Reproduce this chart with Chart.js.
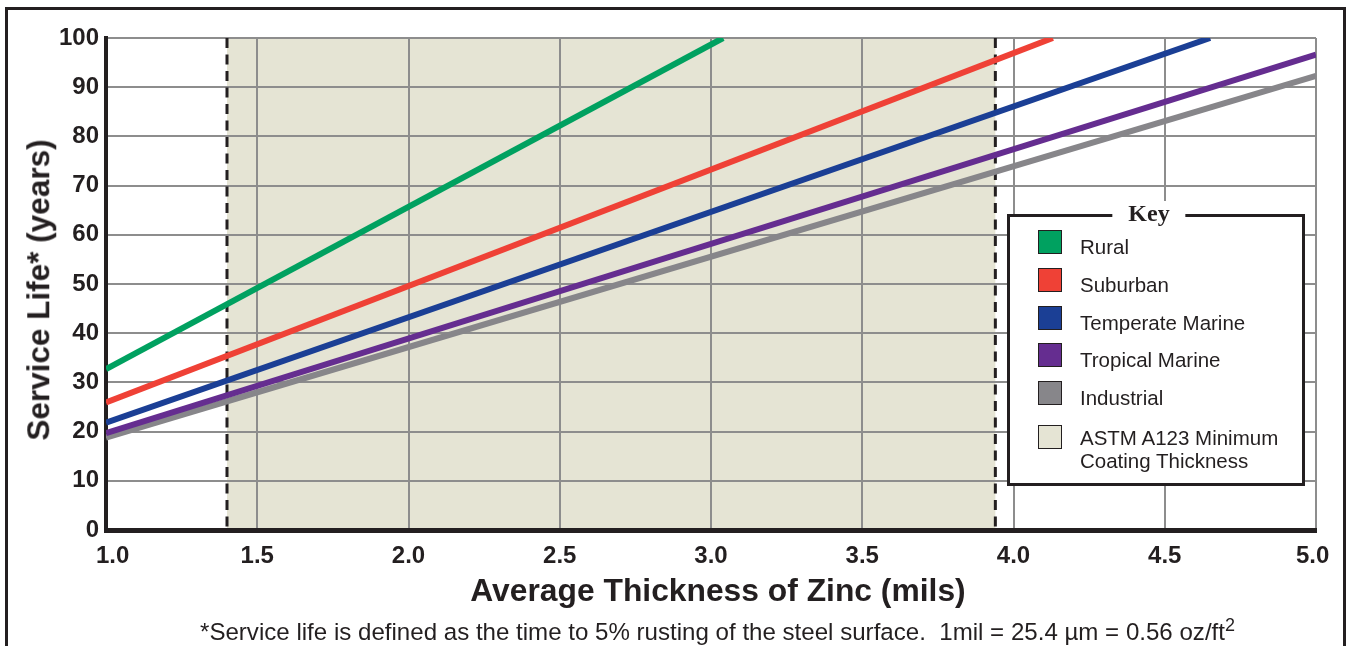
<!DOCTYPE html>
<html lang="en">
<head>
    <meta charset="UTF-8">
    <title>Service Life vs Average Thickness of Zinc</title>
    <script src="https://cdn.jsdelivr.net/npm/chart.js"></script>
    <style>
        body {
            margin: 0;
            width: 1350px;
            height: 646px;
            overflow: hidden;
            position: relative;
            background: #fff;
            color: #231f20;
            font-family: "Liberation Sans", Arial, sans-serif;
        }
        .frame {
            position: absolute;
            left: 5px; top: 7px;
            width: 1341px; height: 700px;
            box-sizing: border-box;
            border: 3px solid #231f20;
        }
        .chart-wrap { position: absolute; left: 0; top: 0; width: 1350px; height: 646px; }
        .y-title {
            position: absolute; left: 39px; top: 290px;
            transform: translate(-50%, -50%) rotate(-90deg);
            font-weight: bold; font-size: 31.5px; line-height: 1; white-space: nowrap;
        }
        .x-title {
            position: absolute; left: 718px; top: 591px;
            transform: translate(-50%, -50%);
            font-weight: bold; font-size: 31.8px; line-height: 1; white-space: nowrap;
        }
        .footnote {
            position: absolute; left: 200px; top: 632px;
            transform: translateY(-50%);
            font-size: 24.1px; line-height: 1; white-space: nowrap;
        }
        .footnote sup { font-size: 18px; vertical-align: 9px; line-height: 0; }

        /* Key box */
        .key {
            position: absolute; left: 1007px; top: 214px;
            width: 298px; height: 272px;
            box-sizing: border-box; border: 3px solid #231f20; background: #fff;
        }
        .key-title {
            position: absolute; left: 1149px; top: 213px;
            transform: translate(-50%, -50%);
            background: #fff; padding: 0 16px;
            font-family: "Liberation Serif", "DejaVu Serif", serif;
            font-weight: bold; font-size: 24px; line-height: 1;
        }
        .key-row { position: absolute; left: 1038px; display: flex; align-items: flex-start; }
        .swatch { width: 24px; height: 24px; box-sizing: border-box; border: 1.5px solid #231f20; flex: none; }
        .key-label { margin-left: 18px; margin-top: 5px; font-size: 20.5px; line-height: 23px; white-space: nowrap; }
        .key-row.wide .key-label { margin-top: 1px; }
    </style>
</head>
<body>

    <div class="frame"></div>

    <div class="chart-wrap">
        <canvas id="lifeChart" width="1350" height="646"></canvas>
    </div>

    <div class="y-title">Service Life* (years)</div>
    <div class="x-title">Average Thickness of Zinc (mils)</div>
    <div class="footnote">*Service life is defined as the time to 5% rusting of the steel surface.&nbsp; 1mil = 25.4 µm = 0.56 oz/ft<sup>2</sup></div>

    <!-- Key -->
    <div class="key"></div>
    <div class="key-title">Key</div>
    <div id="keyRows"></div>

    <script>
        // Chart data
        const seriesNames = ['Rural', 'Suburban', 'Temperate Marine', 'Tropical Marine', 'Industrial'];
        const startThickness = [1.0, 1.0, 1.0, 1.0, 1.0];
        const startLife = [32.7, 25.9, 21.8, 19.7, 18.8];
        const endThickness = [3.04, 4.13, 4.65, 5.0, 5.0];
        const endLife = [100, 100, 100, 96.6, 92.3];
        const astmRange = [1.4, 3.94];
        const astmLabel = 'ASTM A123 Minimum Coating Thickness';
        const xTicks = [1.0, 1.5, 2.0, 2.5, 3.0, 3.5, 4.0, 4.5, 5.0];
        const yTicks = [0, 10, 20, 30, 40, 50, 60, 70, 80, 90, 100];

        const seriesColors = ['#00a160', '#ef4136', '#1b3f95', '#652d90', '#87868a'];
        const astmColor = '#e5e4d4';
        const ink = '#231f20';

        // Key rows
        const keyRows = document.getElementById('keyRows');
        seriesNames.forEach((name, i) => {
            const row = document.createElement('div');
            row.className = 'key-row';
            row.style.top = (230 + i * 37.75) + 'px';
            row.innerHTML = `<div class="swatch" style="background:${seriesColors[i]}"></div><div class="key-label">${name}</div>`;
            keyRows.appendChild(row);
        });
        const astmRow = document.createElement('div');
        astmRow.className = 'key-row wide';
        astmRow.style.top = '425px';
        astmRow.innerHTML = `<div class="swatch" style="background:${astmColor}"></div><div class="key-label">ASTM A123 Minimum<br>Coating Thickness</div>`;
        keyRows.appendChild(astmRow);

        // Beige band for the ASTM range, painted before the grid
        const astmShade = {
            id: 'astmShade',
            beforeDraw(chart) {
                const { ctx, chartArea, scales } = chart;
                const x0 = scales.x.getPixelForValue(astmRange[0]);
                const x1 = scales.x.getPixelForValue(astmRange[1]);
                ctx.save();
                ctx.fillStyle = astmColor;
                ctx.fillRect(x0, chartArea.top, x1 - x0, chartArea.bottom - chartArea.top);
                ctx.restore();
            }
        };

        const lineSets = seriesNames.map((name, i) => ({
            label: name,
            data: [{ x: startThickness[i], y: startLife[i] }, { x: endThickness[i], y: endLife[i] }],
            borderColor: seriesColors[i],
            borderWidth: 6,
            borderCapStyle: 'butt',
            pointRadius: 0,
            fill: false,
            order: i
        }));

        const dashSets = astmRange.map(x => ({
            label: astmLabel,
            data: [{ x: x, y: yTicks[yTicks.length - 1] }, { x: x, y: yTicks[0] }],
            borderColor: ink,
            borderWidth: 3,
            borderDash: [10, 6.5],
            borderCapStyle: 'butt',
            pointRadius: 0,
            fill: false,
            order: 20
        }));

        const tickFont = { family: 'Liberation Sans', size: 24, weight: 'bold' };

        new Chart(document.getElementById('lifeChart'), {
            type: 'line',
            data: { datasets: [...lineSets, ...dashSets] },
            plugins: [astmShade],
            options: {
                responsive: false,
                animation: false,
                layout: { padding: { left: 0, right: 34, top: 38, bottom: 0 } },
                plugins: { legend: { display: false }, tooltip: { enabled: false } },
                scales: {
                    x: {
                        type: 'linear',
                        min: xTicks[0],
                        max: xTicks[xTicks.length - 1],
                        afterBuildTicks: s => { s.ticks = xTicks.map(v => ({ value: v })); },
                        afterFit: s => { s.height = 116; },
                        ticks: {
                            font: tickFont,
                            color: ink,
                            padding: 12,
                            maxRotation: 0,
                            autoSkip: false,
                            callback: (v, i) => {
                                const t = v.toFixed(1);
                                if (i === 0) return '  ' + t;
                                if (i === xTicks.length - 1) return t + ' ';
                                return t;
                            }
                        },
                        grid: { color: '#8d8d8d', lineWidth: 2, drawTicks: false },
                        border: { color: ink, width: 5 }
                    },
                    y: {
                        min: yTicks[0],
                        max: yTicks[yTicks.length - 1],
                        afterBuildTicks: s => { s.ticks = yTicks.map(v => ({ value: v })); },
                        afterFit: s => { s.width = 106; },
                        ticks: {
                            font: tickFont,
                            color: ink,
                            padding: 7,
                            autoSkip: false,
                            callback: v => String(v)
                        },
                        grid: { color: '#8d8d8d', lineWidth: 2, drawTicks: false },
                        border: { color: ink, width: 4 }
                    }
                }
            }
        });
    </script>
</body>
</html>
